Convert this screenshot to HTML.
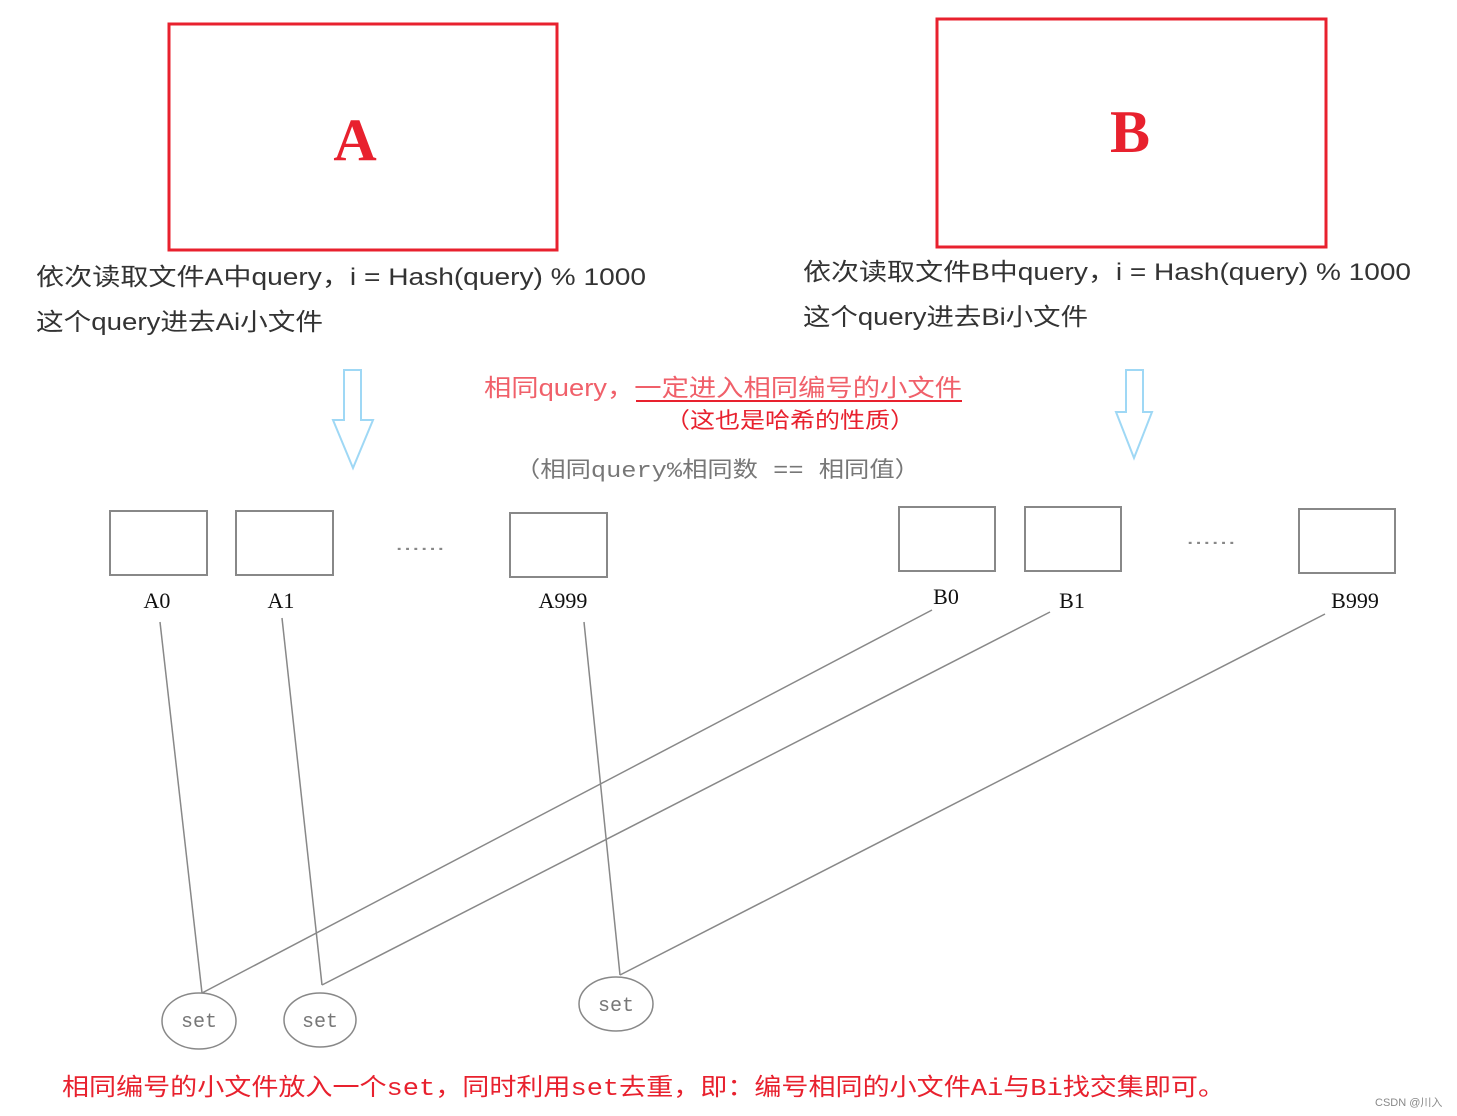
<!DOCTYPE html>
<html><head><meta charset="utf-8"><style>html,body{margin:0;padding:0;background:#fff;}svg{display:block}</style></head>
<body>
<svg width="1457" height="1116" viewBox="0 0 1457 1116" xmlns="http://www.w3.org/2000/svg">
<rect x="169" y="24" width="388" height="226" fill="none" stroke="#e8212e" stroke-width="3"/>
<text x="355" y="160" font-family="Liberation Serif, serif" font-weight="bold" font-size="60" fill="#e8212e" text-anchor="middle">A</text>
<rect x="937" y="19" width="389" height="228" fill="none" stroke="#e8212e" stroke-width="3"/>
<text x="1130" y="152" font-family="Liberation Serif, serif" font-weight="bold" font-size="60" fill="#e8212e" text-anchor="middle">B</text>
<g font-family="Liberation Sans, Noto Sans CJK SC, sans-serif" font-size="24" fill="#333">
<text x="36" y="285" textLength="610" lengthAdjust="spacingAndGlyphs">依次读取文件A中query，i = Hash(query) % 1000</text>
<text x="36" y="330" textLength="287" lengthAdjust="spacingAndGlyphs">这个query进去Ai小文件</text>
<text x="803" y="280" textLength="608" lengthAdjust="spacingAndGlyphs">依次读取文件B中query，i = Hash(query) % 1000</text>
<text x="803" y="325" textLength="285" lengthAdjust="spacingAndGlyphs">这个query进去Bi小文件</text>
</g>
<g fill="none" stroke="#9fd8f5" stroke-width="2">
<path d="M344 370 H361 V420 H373 L353 468 L333 420 H344 Z"/>
<path d="M1126 370 H1143 V412 H1152 L1134 458 L1116 412 H1126 Z"/>
</g>
<text x="484" y="396" font-family="Liberation Sans, Noto Sans CJK SC, sans-serif" font-size="24" fill="#f0606a" textLength="478" lengthAdjust="spacingAndGlyphs">相同query，一定进入相同编号的小文件</text>
<line x1="636" y1="401" x2="962" y2="401" stroke="#e8212e" stroke-width="2"/>
<text x="665" y="428" font-family="Liberation Sans, Noto Sans CJK SC, sans-serif" font-size="22" fill="#e8212e" textLength="250" lengthAdjust="spacingAndGlyphs">（这也是哈希的性质）</text>
<text x="515" y="477" font-family="Liberation Mono, Noto Sans CJK SC, monospace" font-size="22" fill="#777" textLength="405" lengthAdjust="spacingAndGlyphs">（相同query%相同数 == 相同值）</text>
<g fill="none" stroke="#888" stroke-width="2">
<rect x="110" y="511" width="97" height="64"/>
<rect x="236" y="511" width="97" height="64"/>
<rect x="510" y="513" width="97" height="64"/>
<rect x="899" y="507" width="96" height="64"/>
<rect x="1025" y="507" width="96" height="64"/>
<rect x="1299" y="509" width="96" height="64"/>
</g>
<text x="395" y="550" font-family="Liberation Sans, sans-serif" font-size="20" fill="#888" textLength="50" lengthAdjust="spacingAndGlyphs">......</text>
<text x="1186" y="544" font-family="Liberation Sans, sans-serif" font-size="20" fill="#888" textLength="50" lengthAdjust="spacingAndGlyphs">......</text>
<g font-family="Liberation Serif, serif" font-size="22" fill="#111" text-anchor="middle">
<text x="157" y="608">A0</text><text x="281" y="608">A1</text><text x="563" y="608">A999</text>
<text x="946" y="604">B0</text><text x="1072" y="608">B1</text><text x="1355" y="608">B999</text>
</g>
<g stroke="#888" stroke-width="1.5" fill="none">
<line x1="160" y1="622" x2="202" y2="993"/>
<line x1="282" y1="618" x2="322" y2="985"/>
<line x1="584" y1="622" x2="620" y2="975"/>
<line x1="932" y1="610" x2="202" y2="993"/>
<line x1="1050" y1="612" x2="322" y2="985"/>
<line x1="1325" y1="614" x2="620" y2="975"/>
<ellipse cx="199" cy="1021" rx="37" ry="28"/>
<ellipse cx="320" cy="1020" rx="36" ry="27"/>
<ellipse cx="616" cy="1004" rx="37" ry="27"/>
</g>
<g font-family="Liberation Mono, monospace" font-size="20" fill="#777" text-anchor="middle">
<text x="199" y="1027">set</text><text x="320" y="1027">set</text><text x="616" y="1011">set</text>
</g>
<text x="62" y="1095" font-family="Liberation Mono, Noto Sans CJK SC, monospace" font-size="24" fill="#e8212e" textLength="1163" lengthAdjust="spacingAndGlyphs">相同编号的小文件放入一个set，同时利用set去重，即：编号相同的小文件Ai与Bi找交集即可。</text>
<text x="1375" y="1106" font-family="Liberation Sans, Noto Sans CJK SC, sans-serif" font-size="11" fill="#888">CSDN @川入</text>
</svg>
</body></html>
